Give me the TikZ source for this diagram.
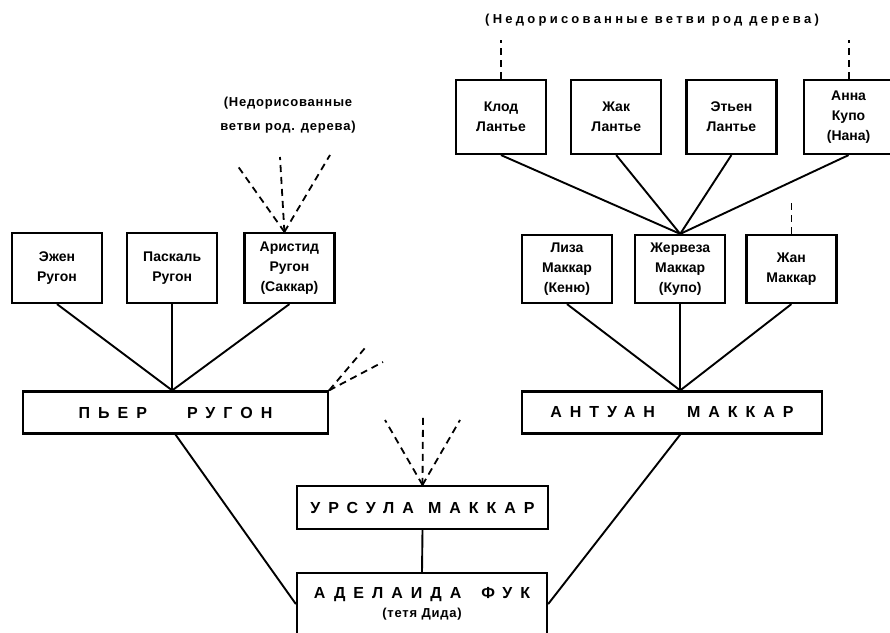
\documentclass[tikz,border=0pt]{standalone}
\usepackage{fontspec}
\setmainfont{Liberation Sans}
\newfontfamily\widefont[LetterSpace=50]{Liberation Sans}
\newfontfamily\notefont[LetterSpace=25]{Liberation Sans}
\newfontfamily\tightfont[LetterSpace=6]{Liberation Sans}
\usetikzlibrary{positioning}

\begin{document}
\begin{tikzpicture}
            [x=1pt, y=1pt, line width=1.9pt, node distance=23pt,
            person/.style={rectangle, draw=black, line width=2.2pt, minimum width=90pt, minimum height=70pt, inner sep=1pt, align=center, font=\bfseries\fontsize{14}{20}\selectfont},
            elder/.style={rectangle, draw=black, line width=2.2pt, minimum height=42pt, inner sep=1pt, align=center, font=\widefont\bfseries\fontsize{16}{19}\selectfont},
            unfinished/.style={dash pattern=on 7pt off 5pt, line width=1.8pt},
            remark/.style={align=center, font=\notefont\bfseries\fontsize{13}{24}\selectfont}]
            \useasboundingbox (0,0) rectangle (890,632);

            \node[person]  (eugene)     at (57,364)     {Эжен \\ Ругон};
            \node[person]  (pascal)     [right = of eugene]     {Паскаль \\ Ругон};
            \node[person]  (aristide)   [right = 25pt of pascal]    {Аристид \\ Ругон \\ (Саккар)};

            \node[elder, minimum width=305pt]  (pierre)   at (175.5,219.5)  {ПЬЕР\hspace{40pt}РУГОН};

            \node[person, minimum height=74pt]  (claude)   at (501,515)     {Клод \\ Лантье};
            \node[person, minimum height=74pt]  (jacques)  [right = of claude]     {Жак \\ Лантье};
            \node[person, minimum height=74pt]  (etienne)  [right = of jacques]    {Этьен \\ Лантье};
            \node[person, minimum height=74pt]  (anna)     [right = 25pt of etienne]   {Анна \\ Купо \\ (Нана)};

            \node[person, minimum height=68pt]  (lisa)     at (567,363)     {Лиза \\ Маккар \\ (Кеню)};
            \node[person, minimum height=68pt]  (gervaise) [right = 21pt of lisa]  {Жервеза \\ Маккар \\ (Купо)};
            \node[person, minimum height=68pt]  (jean)     [right = 19pt of gervaise]  {Жан \\ Маккар};

            \node[elder, minimum width=300pt]  (antoine)  at (672,219.5)   {АНТУАН\hspace{32pt}МАККАР};

            \node[elder, minimum width=251pt, minimum height=43pt]  (ursula)  at (422.5,124.5)  {УРСУЛА\hspace{14pt}МАККАР};

            \node[elder, minimum width=250pt, minimum height=62pt, anchor=north]  (adelaide)  at (422,60)
            {АДЕЛАИДА\hspace{20pt}ФУК \\ {\tightfont\bfseries\fontsize{13}{19}\selectfont (тетя Дида)}};

            \node[remark, font=\tightfont\bfseries\fontsize{13}{24}\selectfont]  (noteleft)   at (288,517)    {(Недорисованные \\ ветви род. дерева)};
            \node[remark]  (noteright)  at (652,612)    {(Недорисованные ветви род дерева)};

            \coordinate (pierretop)    at (pierre.north -| pascal.south);
            \coordinate (antoinetop)   at (antoine.north -| gervaise.south);
            \coordinate (antoinefoot)  at (antoine.south -| gervaise.south);
            \coordinate (aristidetop)  at ([xshift=-5pt]aristide.north);

            \coordinate (aristideA)  at (237,467);
            \coordinate (aristideB)  at (280,475);
            \coordinate (aristideC)  at (330,477);
            \coordinate (pierreA)    at (365,284);
            \coordinate (pierreB)    at (383,270);
            \coordinate (ursulaA)    at (385,212);
            \coordinate (ursulaB)    at (423,215);
            \coordinate (ursulaC)    at (460,212);
            \coordinate (claudeup)   at (claude.north |- 0,592);
            \coordinate (annaup)     at (anna.north |- 0,592);
            \coordinate (jeanup)     at (jean.north |- 0,432);

            \path (eugene.south)    edge    (pierretop)
                  (pascal.south)    edge    (pierretop)
                  (aristide.south)  edge    (pierretop)
                  (lisa.south)      edge    (antoinetop)
                  (gervaise.south)  edge    (antoinetop)
                  (jean.south)      edge    (antoinetop)
                  (claude.south)    edge    (gervaise.north)
                  (jacques.south)   edge    (gervaise.north)
                  (etienne.south)   edge    (gervaise.north)
                  (anna.south)      edge    (gervaise.north)
                  (pierre.south)    edge    (adelaide.west)
                  (antoinefoot)     edge    (adelaide.east)
                  (ursula.south)    edge    (adelaide.north);

            \path[unfinished]
                  (aristidetop)         edge    (aristideA)
                  (aristidetop)         edge    (aristideB)
                  (aristidetop)         edge    (aristideC)
                  (pierre.north east)   edge    (pierreA)
                  (pierre.north east)   edge    (pierreB)
                  (ursula.north)        edge    (ursulaA)
                  (ursula.north)        edge    (ursulaB)
                  (ursula.north)        edge    (ursulaC)
                  (claude.north)        edge    (claudeup)
                  (anna.north)          edge    (annaup)
                  (jean.north)          edge    (jeanup);
        \end{tikzpicture}
\end{document}
